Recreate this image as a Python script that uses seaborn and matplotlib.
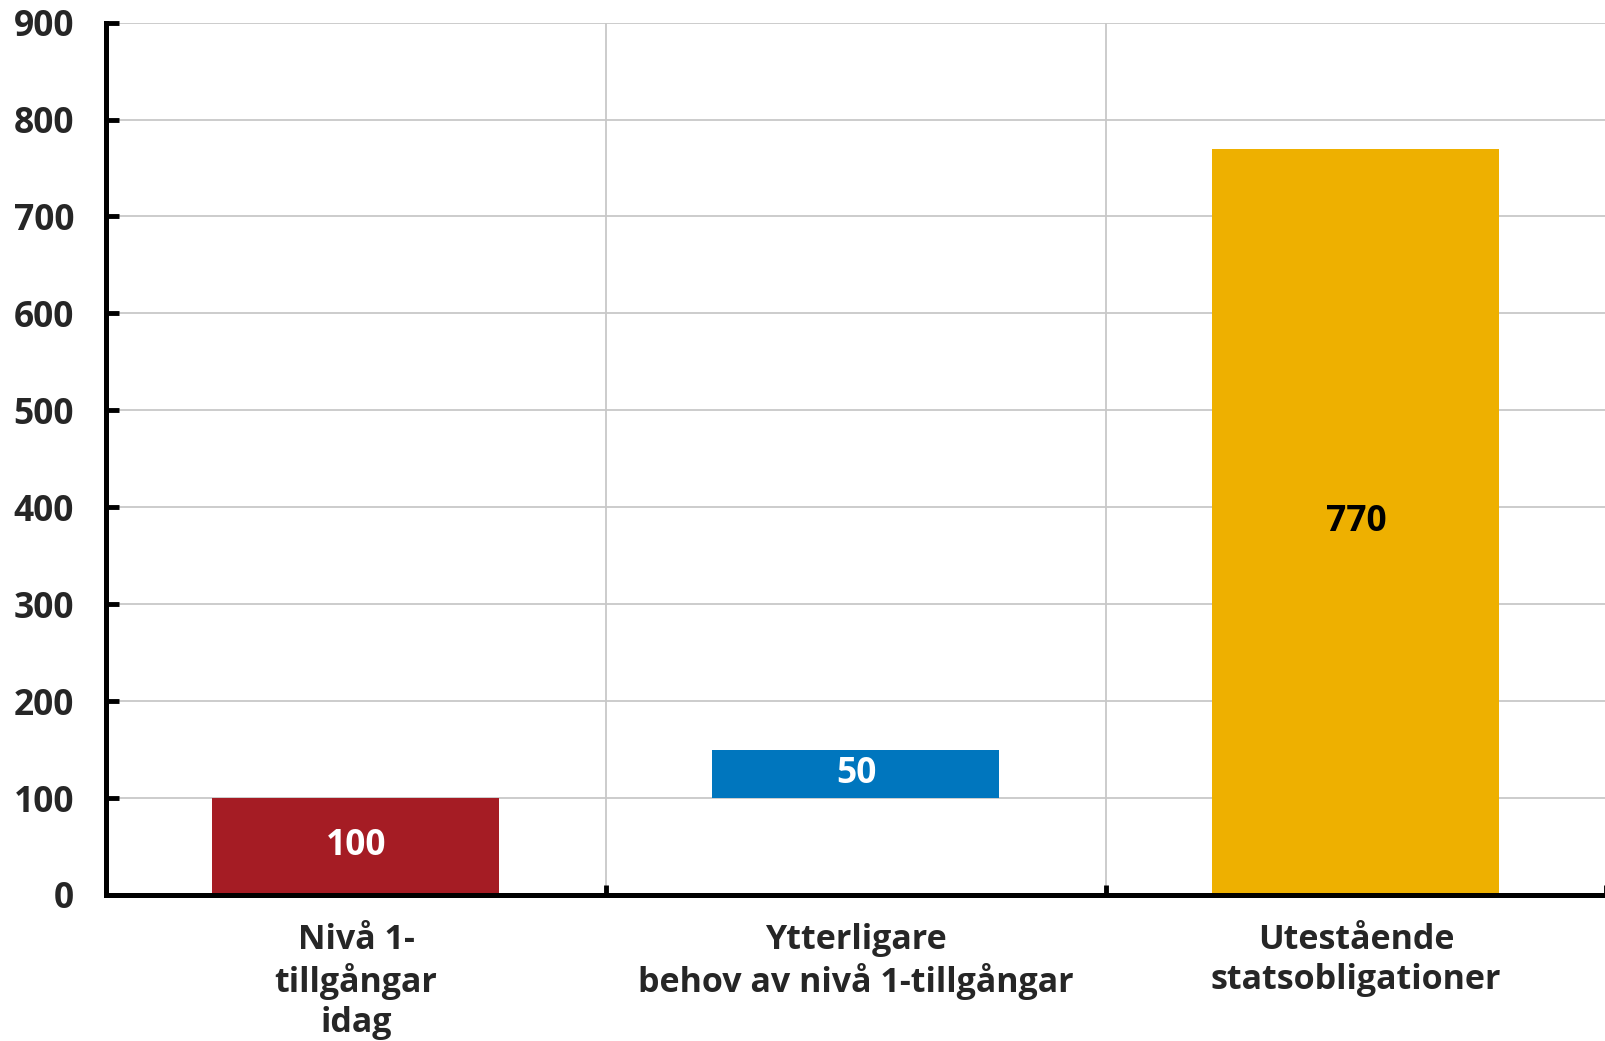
import matplotlib
matplotlib.use("Agg")
import matplotlib.pyplot as plt
import seaborn as sns
import pandas as pd

categories = ["Nivå 1-\ntillgångar\nidag",
              "Ytterligare\nbehov av nivå 1-tillgångar",
              "Utestående\nstatsobligationer"]
values = [100, 50, 770]
bases = [0, 100, 0]
bar_colors = ["#A51C24", "#0076BE", "#EEB000"]
label_colors = ["white", "white", "black"]

df = pd.DataFrame({"kategori": categories, "varde": values})

sns.set_style("white")
plt.rcParams["font.family"] = ["Open Sans", "DejaVu Sans"]
plt.rcParams["font.weight"] = "bold"

fig = plt.figure(figsize=(16.06, 10.41), dpi=100)
ax = fig.add_axes([0.066, 0.1403, 0.934, 0.838])

sns.barplot(data=df, x="kategori", y="varde", order=categories,
            bottom=bases, width=0.574, color=bar_colors[0],
            saturation=1, ax=ax, zorder=3)

for patch, c in zip(ax.patches, bar_colors):
    patch.set_facecolor(c)
    patch.set_edgecolor("none")

cont = ax.containers[0]
txts = ax.bar_label(cont, labels=[str(v) for v in values], label_type="center",
                    fontsize=25.5, fontweight="bold", zorder=4)
for t, c in zip(txts, label_colors):
    t.set_color(c)

ax.set_xlim(-0.5, 2.5)
ax.set_ylim(0, 900)
ax.set_yticks(range(0, 901, 100))
ax.set_xticks([-0.5, 0.5, 1.5, 2.5])
ax.set_xticklabels([])
ax.set_xticks([0, 1, 2], minor=True)
ax.set_xticklabels(categories, minor=True, fontsize=24.5, fontweight="bold",
                   linespacing=1.23)
ax.tick_params(axis="x", which="minor", bottom=True, length=0, pad=20)
ax.tick_params(axis="x", which="major", bottom=True, direction="in", length=7,
               width=3.5, color="black")
ax.tick_params(axis="y", left=True, direction="in", length=9, width=3.5,
               color="black", labelsize=25.5, pad=23)
for lab in ax.get_yticklabels():
    lab.set_fontweight("bold")

ax.grid(True, which="major", color="#C8C8C8", linewidth=1.3, zorder=0)
ax.set_axisbelow(True)

sns.despine(ax=ax, top=True, right=True)
for s in ["left", "bottom"]:
    ax.spines[s].set_linewidth(3.6)
    ax.spines[s].set_color("black")
    ax.spines[s].set_zorder(5)

ax.set_xlabel("")
ax.set_ylabel("")

fig.savefig("out.png", dpi=100)
